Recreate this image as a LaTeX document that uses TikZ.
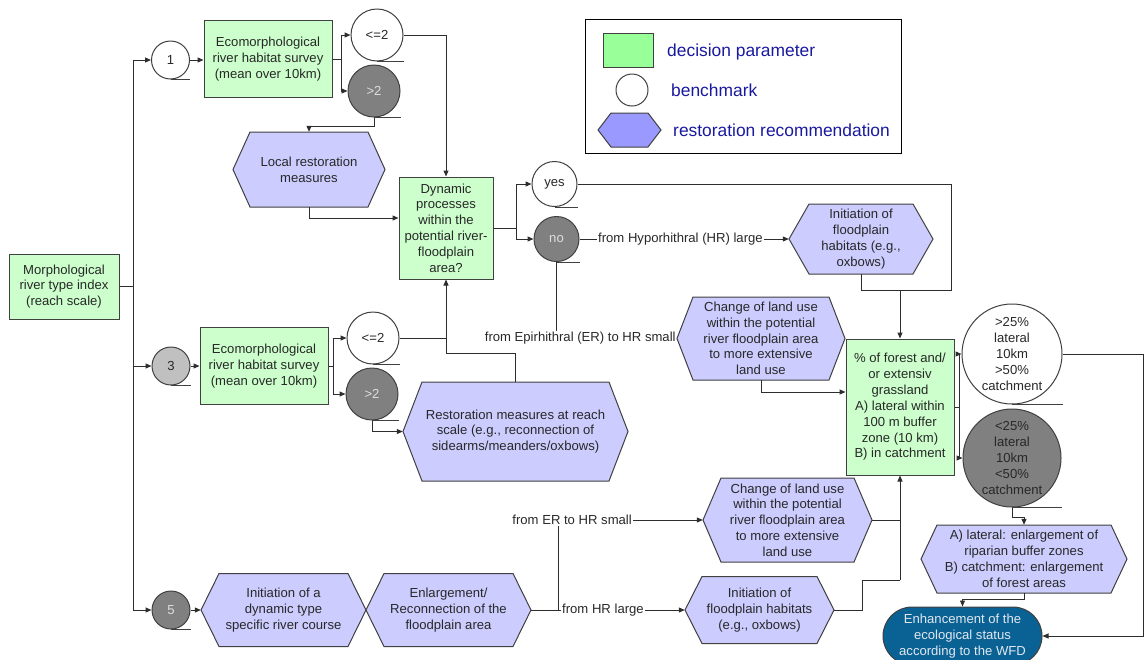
\documentclass[tikz,border=0pt]{standalone}
\usepackage{fontspec}
\setmainfont{Liberation Sans}
\usetikzlibrary{arrows.meta,shapes.misc,calc}

\definecolor{boxgreen}{RGB}{204,255,204}
\definecolor{hexblue}{RGB}{204,204,255}
\definecolor{darkdot}{RGB}{128,128,128}
\definecolor{lightdot}{RGB}{192,192,192}
\definecolor{edgegray}{RGB}{64,64,64}
\definecolor{linegray}{RGB}{45,45,45}
\definecolor{txtgray}{RGB}{40,40,40}
\definecolor{paledot}{RGB}{222,222,222}
\definecolor{wfdblue}{RGB}{10,98,148}
\definecolor{wfdtext}{RGB}{225,232,240}
\definecolor{leggreen}{RGB}{153,255,153}
\definecolor{leghexfill}{RGB}{153,153,255}
\definecolor{legtext}{RGB}{25,25,160}

\tikzset{
  txt/.style={font=\fontsize{13.1}{15.8}\selectfont, text=txtgray, align=center},
  param/.style={txt, rectangle, draw=edgegray, fill=boxgreen, line width=1pt, inner sep=2pt},
  bench/.style={txt, circle, draw=edgegray, fill=white, line width=1pt, inner sep=0pt},
  benchdark/.style={bench, fill=darkdot, text=paledot},
  hexshape/.style={draw=edgegray, fill=hexblue, line width=1pt, line join=miter},
  hextext/.style={txt, rectangle, inner sep=0pt},
  lbl/.style={txt, inner sep=1pt},
  conn/.style={draw=linegray, line width=1pt},
  arr/.style={conn, -{Triangle[length=6pt,width=5pt]}},
  uline/.style={draw=edgegray, line width=1pt},
  legtxt/.style={font=\fontsize{17.4}{20}\selectfont, text=legtext, anchor=west, inner sep=0pt},
}

% hexagonal recommendation box: [options]{name}{cx}{cy}{width}{height}{inset}{text}
\newcommand{\hexnode}[8][]{%
  \path[hexshape,#1] ({#3-#5/2},{#4}) -- ({#3-#5/2+#7},{#4-#6/2}) -- ({#3+#5/2-#7},{#4-#6/2})
    -- ({#3+#5/2},{#4}) -- ({#3+#5/2-#7},{#4+#6/2}) -- ({#3-#5/2+#7},{#4+#6/2}) -- cycle;
  \node[hextext, minimum width=#5pt, minimum height=#6pt] (#2) at (#3,#4) {#8};
}

\begin{document}
\begin{tikzpicture}[x=1pt,y=-1pt]
\useasboundingbox (0,0) rectangle (1147,659);

% legend
\node[draw=black, line width=1pt, minimum width=316pt, minimum height=134pt] (legend) at (743,86) {};
\node[param, fill=leggreen, minimum width=50pt, minimum height=34pt] (legpar) at (628,50) {};
\node[bench, minimum size=32pt] (legbench) at (632,90) {};
\hexnode[fill=leghexfill]{leghex}{629.5}{130}{63}{34}{13}{}
\node[legtxt] (legparT) at (667,52) {decision parameter};
\node[legtxt] (legbenchT) at (671,90) {benchmark};
\node[legtxt] (leghexT) at (673,130) {restoration recommendation};

% starting parameter and the three river type classes
\node[param, minimum width=110pt, minimum height=65pt] (morph) at (64,286.5) {Morphological\\river type index\\(reach scale)};
\node[bench, minimum size=38pt] (c1) at (170.5,60) {1};
\node[bench, fill=lightdot, minimum size=38pt] (c3) at (171,366) {3};
\node[benchdark, minimum size=38pt] (c5) at (171,610) {5};

% class 1
\node[param, minimum width=128pt, minimum height=77pt] (eco1) at (268,59) {Ecomorphological\\river habitat survey\\(mean over 10km)};
\node[bench, minimum size=52pt] (le1) at (377,35) {<=2};
\node[benchdark, minimum size=52pt] (gt1) at (374,91) {>2};
\hexnode{loc}{309}{169.5}{152}{75}{17}{Local restoration\\measures}
\node[param, minimum width=94pt, minimum height=102pt] (dyn) at (446,228) {Dynamic\\processes\\within the\\potential river-\\floodplain\\area?};
\node[bench, minimum size=45pt] (yes) at (554.5,184) {yes};
\node[benchdark, minimum size=45pt] (no) at (556.5,239) {no};
\hexnode{ini1}{861}{239}{144}{70}{20}{Initiation of\\floodplain\\habitats (e.g.,\\oxbows)}
\hexnode{chg1}{761}{338.5}{168}{83}{16}{Change of land use\\within the potential\\river floodplain area\\to more extensive\\land use}

% land use decision
\node[param, minimum width=108pt, minimum height=136pt] (forest) at (900,407) {\% of forest and/\\or extensiv\\grassland\\A) lateral within\\100 m buffer\\zone (10 km)\\B) in catchment};
\node[bench, minimum size=100pt] (gt25) at (1012,354) {>25\%\\lateral\\10km\\>50\%\\catchment};
\node[bench, fill=darkdot, minimum size=98pt] (lt25) at (1012,458) {<25\%\\lateral\\10km\\<50\%\\catchment};
\hexnode{lat}{1024}{559}{206}{68}{16}{A) lateral: enlargement of\\riparian buffer zones\\B) catchment: enlargement\\of forest areas}
\node[txt, rounded rectangle, draw=edgegray, line width=1pt, fill=wfdblue, text=wfdtext, minimum width=159pt, minimum height=58pt, inner sep=0pt] (enh) at (962.5,636) {Enhancement of the\\ecological status\\according to the WFD};

% class 3
\node[param, minimum width=128pt, minimum height=77pt] (eco2) at (264,366) {Ecomorphological\\river habitat survey\\(mean over 10km)};
\node[bench, minimum size=52pt] (le3) at (373,338) {<=2};
\node[benchdark, minimum size=52pt] (gt3) at (372,394) {>2};
\hexnode{rest}{515.5}{431.5}{225}{99}{19}{Restoration measures at reach\\scale (e.g., reconnection of\\sidearms/meanders/oxbows)}

% class 5
\hexnode{ispec}{283.5}{610}{165}{73}{18}{Initiation of a\\dynamic type\\specific river course}
\hexnode{enl}{448.5}{610}{165}{73}{18}{Enlargement/\\Reconnection of the\\floodplain area}
\hexnode{chg2}{787.5}{520}{169}{84}{18}{Change of land use\\within the potential\\river floodplain area\\to more extensive\\land use}
\hexnode{ini2}{759.5}{610}{149}{67}{17}{Initiation of\\floodplain habitats\\(e.g., oxbows)}

% connector labels
\node[lbl, anchor=west] (lblHR) at (597,239) {from Hyporhithral (HR) large};
\node[lbl, anchor=east] (lblER) at (chg1.west) {from Epirhithral (ER) to HR small};
\node[lbl, anchor=east] (lblERs) at (633,520) {from ER to HR small};
\node[lbl, anchor=west] (lblHRl) at (561,610) {from HR large};

% benchmark underlines
\foreach \n in {c1,c3,c5,le1,gt1,le3,gt3,yes,no,gt25,lt25}
  \draw[uline] (\n.south) -- (\n.south -| \n.east);

% trunk
\coordinate (trunk) at ($(morph.east)+(14,0)$);
\draw[conn] (morph.east) -- (trunk);
\draw[arr] (trunk) |- (c1.west);
\draw[arr] (trunk) |- (c3.west);
\draw[arr] (trunk) |- (c5.west);

% class 1 flow
\draw[arr] (c1.east) -- (eco1.west |- c1.east);
\coordinate (b1) at ($(eco1.east)+(9,0)$);
\draw[conn] (eco1.east) -- (b1);
\draw[arr] (b1) |- (le1.west);
\draw[arr] (b1) |- (gt1.west);
\draw[arr] (le1.east) -| (dyn.north);
\draw[arr] (gt1.south) -- ++(0,9) -| (loc.north);
\draw[arr] (loc.south) |- ($(dyn.west)+(0,-10)$);
\coordinate (b2) at ($(dyn.east)+(23,0)$);
\draw[conn] (dyn.east) -- (b2);
\draw[arr] (b2) |- (yes.west);
\draw[arr] (b2) |- (no.west);
\coordinate (jr) at (951,290);
\draw[conn] (yes.east) -| (jr) -| (ini1.south);
\draw[arr] (forest.north |- jr) -- (forest.north);
\draw[conn] (no.east) -- (lblHR.west);
\draw[arr] (lblHR.east) -- (ini1.west);
\draw[conn] (no.south) -- (no.south |- lblER.north);
\draw[arr] (chg1.south) |- ($(forest.west)+(0,-15)$);

% land use flow
\coordinate (b3) at ($(forest.east)+(5,0)$);
\draw[conn] (forest.east) -- (b3);
\draw[arr] (b3) |- (gt25.west);
\draw[arr] (b3) |- (lt25.west);
\draw[arr] (gt25.east) -- ++(81,0) |- (enh.east);
\draw[arr] (lt25.south) -- ++(0,10) -| (lat.north);
\draw[arr] (lat.south) -- ++(0,6) -| (enh.north);

% class 3 flow
\draw[arr] (c3.east) -- (eco2.west |- c3.east);
\coordinate (b4) at ($(eco2.east)+(5,0)$);
\draw[conn] (eco2.east) -- (b4);
\draw[arr] (b4) |- (le3.west);
\draw[arr] (b4) |- (gt3.west);
\coordinate (jd) at (446,353);
\draw[conn] (le3.east) -- (dyn.south |- le3.east);
\draw[conn] (rest.north) |- (dyn.south |- jd);
\draw[arr] (dyn.south |- jd) -- (dyn.south);
\draw[arr] (gt3.south) |- (rest.west);

% class 5 flow
\draw[arr] (c5.east) -- (ispec.west);
\coordinate (j5) at (558,610);
\draw[conn] (enl.east) -- (lblHRl.west);
\draw[conn] (j5) -- (j5 |- lblERs.south);
\draw[arr] (lblERs.east) -- (chg2.west);
\draw[arr] (lblHRl.east) -- (ini2.west);
\coordinate (jb) at (900,580);
\draw[conn] (ini2.east) -- ++(28,0) |- (forest.south |- jb);
\draw[conn] (chg2.east) -- (forest.south |- chg2.east);
\draw[arr] (forest.south |- jb) -- (forest.south);
\end{tikzpicture}
\end{document}
